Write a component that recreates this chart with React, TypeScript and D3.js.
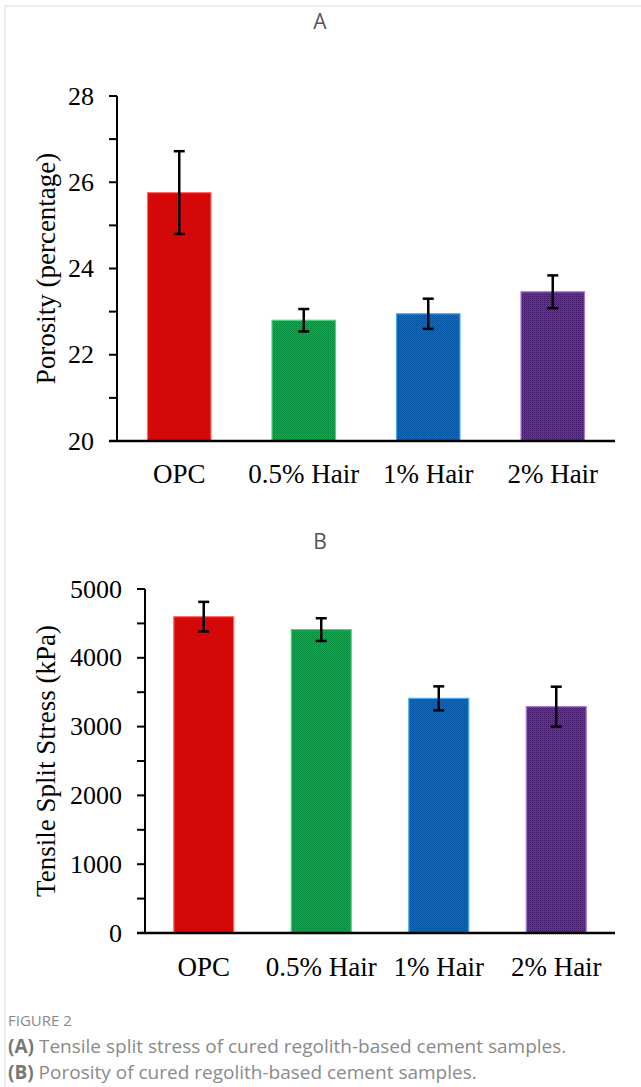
import React from 'react';
import * as d3 from 'd3';

// categories shared by both panels
const categories = ['OPC', '0.5% Hair', '1% Hair', '2% Hair'];

// panel A: porosity (%)
const porosity = [25.76, 22.8, 22.95, 23.46];
const porosityErr = [0.96, 0.26, 0.35, 0.38];
const porosityTicks = [20, 21, 22, 23, 24, 25, 26, 27, 28];

// panel B: tensile split stress (kPa)
const stress = [4598, 4410, 3410, 3290];
const stressErr = [215, 165, 175, 290];
const stressTicks = [0, 500, 1000, 1500, 2000, 2500, 3000, 3500, 4000, 4500, 5000];

const fills = [
  { id: 'pRed', base: '#f60000', dark: '#cc0000', edge: '#ff6a6a' },
  { id: 'pGreen', base: '#00b04c', dark: '#008a3a', edge: '#50d080' },
  { id: 'pBlue', base: '#0070c8', dark: '#0052a0', edge: '#4aa8f0' },
  { id: 'pPurple', base: '#7230a8', dark: '#3e1466', edge: '#a874d8' },
];

const serif = '"Liberation Serif", "Times New Roman", serif';
const sans = '"Open Sans", "Noto Sans", sans-serif';

type PanelProps = {
  title: string;
  titleY: number;
  values: number[];
  errors: number[];
  ticks: number[];
  labelEvery: number;
  domain: [number, number];
  left: number;
  right: number;
  top: number;
  bottom: number;
  yLabel: string;
  labelX: number;
  xLabelY: number;
};

const Panel = (p: PanelProps) => {
  const x = d3.scaleBand<string>()
    .domain(categories)
    .range([p.left, p.right])
    .paddingInner(0.49)
    .paddingOuter(0.245);
  const y = d3.scaleLinear().domain(p.domain).range([p.bottom, p.top]);
  const tickLen = 8;

  return (
    <g>
      <text x={320} y={p.titleY} textAnchor="middle" dominantBaseline="central"
        fontFamily={sans} fontSize={21} fill="#555">{p.title}</text>

      {/* bars */}
      {categories.map((c, i) => (
        <rect key={c} x={x(c)} y={y(p.values[i])} width={x.bandwidth()}
          height={y(p.domain[0]) - y(p.values[i])}
          fill={`url(#${fills[i].id})`} stroke={fills[i].edge} strokeWidth={1.2} />
      ))}

      {/* error bars */}
      {categories.map((c, i) => {
        const cx = (x(c) as number) + x.bandwidth() / 2;
        const hi = y(p.values[i] + p.errors[i]);
        const lo = y(p.values[i] - p.errors[i]);
        return (
          <g key={c} stroke="#000" strokeWidth={2.5}>
            <line x1={cx} x2={cx} y1={hi} y2={lo} />
            <line x1={cx - 5.5} x2={cx + 5.5} y1={hi} y2={hi} />
            <line x1={cx - 5.5} x2={cx + 5.5} y1={lo} y2={lo} />
          </g>
        );
      })}

      {/* y axis */}
      <line x1={p.left} x2={p.left} y1={p.top} y2={p.bottom} stroke="#000" strokeWidth={2} />
      {p.ticks.map(t => (
        <g key={t}>
          <line x1={p.left - tickLen} x2={p.left} y1={y(t)} y2={y(t)} stroke="#000" strokeWidth={2} />
          {t % p.labelEvery === 0 && (
            <text x={p.left - tickLen - 15} y={y(t)} textAnchor="end" dominantBaseline="central"
              fontFamily={serif} fontSize={26} fill="#000">{t}</text>
          )}
        </g>
      ))}
      <text transform={`translate(${p.labelX},${(p.top + p.bottom) / 2}) rotate(-90)`}
        textAnchor="middle" dominantBaseline="central"
        fontFamily={serif} fontSize={27} fill="#000">{p.yLabel}</text>

      {/* x axis */}
      <line x1={p.left - tickLen} x2={p.right} y1={p.bottom} y2={p.bottom} stroke="#000" strokeWidth={2.5} />
      {categories.map(c => (
        <text key={c} x={(x(c) as number) + x.bandwidth() / 2} y={p.xLabelY}
          textAnchor="middle" dominantBaseline="central"
          fontFamily={serif} fontSize={27} fill="#000">{c}</text>
      ))}
    </g>
  );
};

const App = () => {
  return (
    <svg width={641} height={1087} style={{ position: 'absolute', left: 0, top: 0, background: '#fff' }}>
      <defs>
        {fills.map(f => (
          <pattern key={f.id} id={f.id} width={2} height={2} patternUnits="userSpaceOnUse">
            <rect width={2} height={2} fill={f.base} />
            <rect x={0} y={0} width={1} height={1} fill={f.dark} />
            <rect x={1} y={1} width={1} height={1} fill={f.dark} opacity={0.5} />
          </pattern>
        ))}
      </defs>

      {/* figure frame */}
      <line x1={5} x2={641} y1={6} y2={6} stroke="#ddd" strokeWidth={1} />
      <line x1={5} x2={5} y1={6} y2={1087} stroke="#ddd" strokeWidth={1} />

      <Panel title="A" titleY={21} values={porosity} errors={porosityErr}
        ticks={porosityTicks} labelEvery={2} domain={[20, 28]}
        left={117} right={615} top={96} bottom={441}
        yLabel="Porosity (percentage)" labelX={46} xLabelY={474} />

      <Panel title="B" titleY={541} values={stress} errors={stressErr}
        ticks={stressTicks} labelEvery={1000} domain={[0, 5000]}
        left={145} right={615} top={589} bottom={933}
        yLabel="Tensile Split Stress (kPa)" labelX={46} xLabelY={967} />

      {/* caption */}
      <text x={8} y={1020} dominantBaseline="central" fontFamily={sans} fontSize={15} fill="#888">FIGURE 2</text>
      <text x={8} y={1046} dominantBaseline="central" fontFamily={sans} fontSize={19} fill="#8a8a8a">
        <tspan fontWeight="bold" fill="#777">(A)</tspan> Tensile split stress of cured regolith-based cement samples.
      </text>
      <text x={8} y={1072} dominantBaseline="central" fontFamily={sans} fontSize={19} fill="#8a8a8a">
        <tspan fontWeight="bold" fill="#777">(B)</tspan> Porosity of cured regolith-based cement samples.
      </text>
    </svg>
  );
};

export default App;
